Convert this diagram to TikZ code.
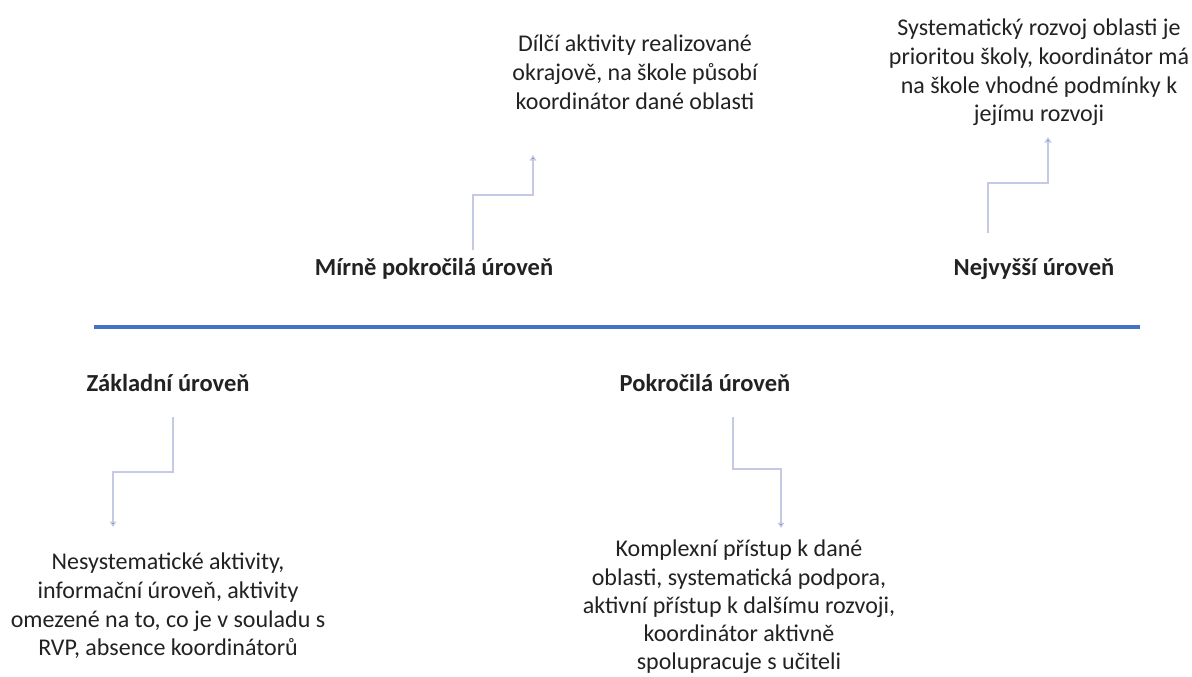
\documentclass[tikz,border=0pt]{standalone}
\usepackage{fontspec}
\setmainfont{Carlito}
\usetikzlibrary{arrows.meta}
\definecolor{txt}{HTML}{222222}
\definecolor{axis}{HTML}{4472C4}
\definecolor{conn}{HTML}{C5C9E6}
\definecolor{tip}{HTML}{4F6FC0}
\tikzset{
  lvl/.style={font=\fontsize{24.5}{29}\selectfont\bfseries, text=txt, inner sep=0pt},
  desc/.style={font=\fontsize{24}{28.6}\selectfont, text=txt, align=center, inner sep=0pt},
  connline/.style={draw=conn, line width=1.3pt, -{Triangle[width=6.5pt,length=5.5pt,fill=tip]}},
}
\begin{document}
\begin{tikzpicture}[x=1pt,y=-1pt]
\path[fill=white] (0,0) rectangle (1192,677);
\useasboundingbox (0,0) rectangle (1192,677);
% axis
\coordinate (axL) at (94,327);
\coordinate (axR) at (1140,327);
\draw[axis, line width=4pt] (axL) -- (axR);
% level labels
\node[lvl] (l1) at (434,269) {Mírně pokročilá úroveň};
\node[lvl] (l2) at (1034,269) {Nejvyšší úroveň};
\node[lvl] (l3) at (168,383) {Základní úroveň};
\node[lvl] (l4) at (705,383) {Pokročilá úroveň};
% descriptions
\node[desc, anchor=north] (d1) at (635,35) {Dílčí aktivity realizované\\okrajově, na škole působí\\koordinátor dané oblasti};
\node[desc, anchor=north] (d2) at (1039,19) {Systematický rozvoj oblasti je\\prioritou školy, koordinátor má\\na škole vhodné podmínky k\\jejímu rozvoji};
\node[desc, anchor=north] (d3) at (168,553) {Nesystematické aktivity,\\informační úroveň, aktivity\\omezené na to, co je v souladu s\\RVP, absence koordinátorů};
\node[desc, anchor=north, font=\fontsize{24}{28.2}\selectfont] (d4) at (739,540) {Komplexní přístup k dané\\oblasti, systematická podpora,\\aktivní přístup k dalšímu rozvoji,\\koordinátor aktivně\\spolupracuje s učiteli};
% connector end points
\coordinate (a1) at (473,250); \coordinate (b1) at (473,195); \coordinate (c1) at (533,155);
\coordinate (a2) at (988,233); \coordinate (b2) at (988,183); \coordinate (c2) at (1048,137);
\coordinate (a3) at (173,417); \coordinate (b3) at (173,472); \coordinate (c3) at (113,527);
\coordinate (a4) at (733,417); \coordinate (b4) at (733,469); \coordinate (c4) at (781,528);
\draw[connline] (a1) -- (b1) -| (c1);
\draw[connline] (a2) -- (b2) -| (c2);
\draw[connline] (a3) -- (b3) -| (c3);
\draw[connline] (a4) -- (b4) -| (c4);
\end{tikzpicture}
\end{document}
